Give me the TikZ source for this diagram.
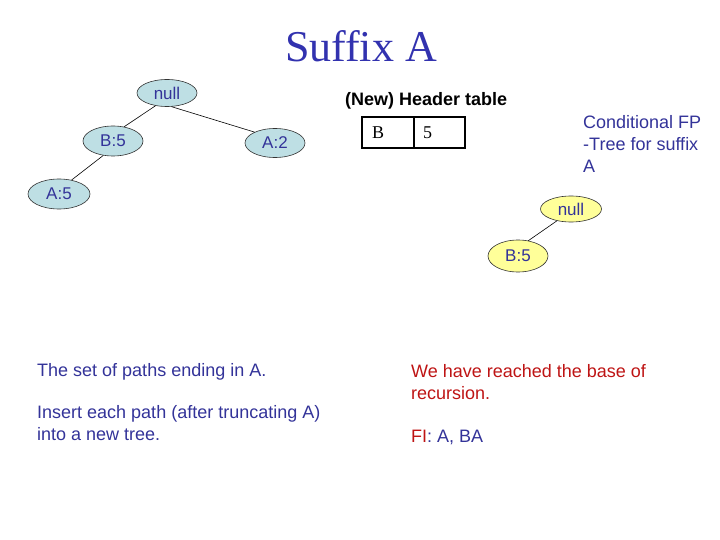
\documentclass[tikz,border=0pt]{standalone}
\usepackage{fontspec}
\setmainfont{Liberation Serif}
\setsansfont{Liberation Sans}
\usetikzlibrary{shapes.geometric}
\definecolor{txtblue}{RGB}{51,51,153}
\definecolor{titleblue}{RGB}{50,50,175}
\definecolor{txtred}{RGB}{190,20,20}
\definecolor{nodeblue}{RGB}{190,223,228}
\definecolor{nodeyellow}{RGB}{255,255,153}
\tikzset{
  treenode/.style={ellipse, draw=black!80, line width=0.6pt, inner sep=0pt,
    font=\sffamily\fontsize{17}{20}\selectfont, text=txtblue},
  bluenode/.style={treenode, fill=nodeblue},
  yellownode/.style={treenode, fill=nodeyellow},
  edge/.style={draw=black, line width=0.6pt},
  bodytext/.style={anchor=base west, inner sep=0pt, font=\sffamily\fontsize{18}{22}\selectfont},
  cell/.style={draw=black, line width=2pt, rectangle, minimum height=31pt, outer sep=0pt,
    inner xsep=0pt, inner ysep=0pt, align=left, font=\rmfamily\fontsize{18}{20}\selectfont}
}
\begin{document}
\begin{tikzpicture}[x=1pt,y=-1pt]
\useasboundingbox (0,0) rectangle (720,540);
% title
\node[anchor=base, inner sep=0pt, text=titleblue, font=\rmfamily\fontsize{44}{50}\selectfont] (title) at (361,62) {Suffix A};
% left tree
\node[bluenode, minimum width=60pt, minimum height=27pt] (nL) at (167,93) {null};
\node[bluenode, minimum width=60pt, minimum height=30pt] (bL) at (113,141) {B:5};
\node[bluenode, minimum width=60pt, minimum height=29pt] (aL2) at (275,143) {A:2};
\node[bluenode, minimum width=62pt, minimum height=30pt] (aL5) at (59,194) {A:5};
\draw[edge] (nL.-132) -- (bL.52);
\draw[edge] (nL.-72) -- (aL2.152);
\draw[edge] (bL.-124) -- (aL5.48);
% header table
\node[bodytext, font=\sffamily\bfseries\fontsize{18}{22}\selectfont] (htitle) at (345,106) {(New) Header table};
\node[cell, minimum width=52pt, text width=52pt, anchor=west] (hB) at (362,132.5) {\hspace*{10pt}B};
\node[cell, minimum width=51pt, text width=51pt, anchor=west] (h5) at (hB.east) {\hspace*{9pt}5};
% conditional FP label
\node[bodytext, text=txtblue] (c1) at (583,129) {Conditional FP};
\node[bodytext, text=txtblue] (c2) at (583,151) {-Tree for suffix};
\node[bodytext, text=txtblue] (c3) at (583,173) {A};
% right tree
\node[yellownode, minimum width=61pt, minimum height=26pt] (nR) at (571,209) {null};
\node[yellownode, minimum width=60pt, minimum height=32pt] (bR) at (518,256) {B:5};
\draw[edge] (nR.-140) -- (bR.56);
% lower texts
\node[bodytext, text=txtblue] (l1) at (37,376) {The set of paths ending in A.};
\node[bodytext, text=txtblue] (l2) at (37,418) {Insert each path (after truncating A)};
\node[bodytext, text=txtblue] (l3) at (37,440) {into a new tree.};
\node[bodytext, text=txtred] (r1) at (411,377) {We have reached the base of};
\node[bodytext, text=txtred] (r2) at (411,399) {recursion.};
\node[bodytext, text=txtblue] (r3) at (411,442) {\textcolor{txtred}{FI}: A, BA};
\end{tikzpicture}
\end{document}
